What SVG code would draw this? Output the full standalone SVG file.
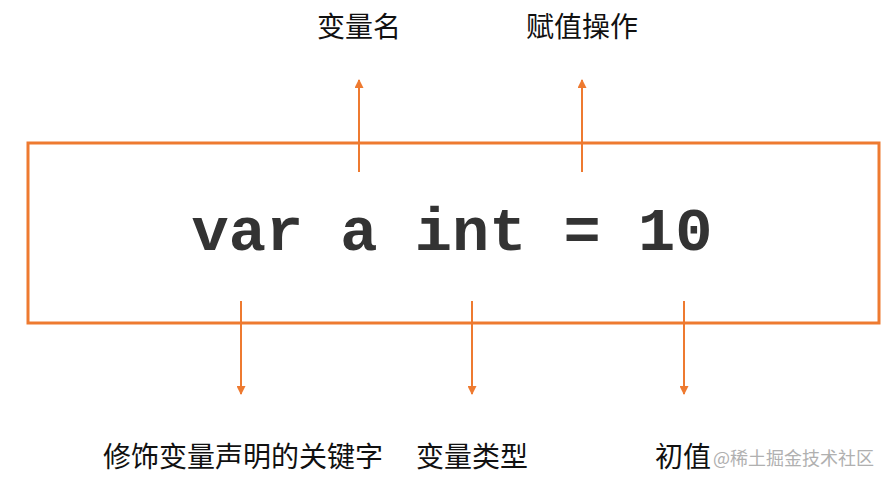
<svg xmlns="http://www.w3.org/2000/svg" width="891" height="485" viewBox="0 0 891 485">
<style>
.lbl{font-family:"Noto Sans CJK SC","Noto Sans",sans-serif;font-size:28px;fill:#111;text-anchor:middle}
.wm{font-family:"Noto Sans CJK SC","Noto Sans",sans-serif;font-size:18px;fill:#b0b0b0}
.code{font-family:"Liberation Mono","Courier New",monospace;font-weight:bold;font-size:62px;fill:#333}
.ln{stroke:#EE7A30;stroke-width:2;fill:none}
</style>
<defs>
<marker id="ah" viewBox="0 0 10 10" refX="9" refY="5" markerWidth="10" markerHeight="9" markerUnits="userSpaceOnUse" orient="auto">
<path d="M0,0 L10,5 L0,10 Z" fill="#EE7A30"/>
</marker>
</defs>
<rect width="891" height="485" fill="#fff"/>
<g id="box">
<rect x="28" y="143" width="851" height="180" fill="none" stroke="#EE7A30" stroke-width="3"/>
<text class="code" x="452" y="250" text-anchor="middle">var a int = 10</text>
</g>
<g id="connectors">
<line class="ln" x1="359" y1="172" x2="359" y2="80" marker-end="url(#ah)"/>
<line class="ln" x1="582" y1="172" x2="582" y2="80" marker-end="url(#ah)"/>
<line class="ln" x1="241" y1="301" x2="241" y2="394" marker-end="url(#ah)"/>
<line class="ln" x1="472" y1="301" x2="472" y2="394" marker-end="url(#ah)"/>
<line class="ln" x1="684" y1="301" x2="684" y2="394" marker-end="url(#ah)"/>
</g>
<g id="n-name"><text class="lbl" x="359" y="37">变量名</text></g>
<g id="n-assign"><text class="lbl" x="582" y="37">赋值操作</text></g>
<g id="n-keyword"><text class="lbl" x="243" y="467">修饰变量声明的关键字</text></g>
<g id="n-type"><text class="lbl" x="472" y="467">变量类型</text></g>
<g id="n-init"><text class="lbl" x="683" y="467">初值</text></g>
<text class="wm" x="713" y="465">@稀土掘金技术社区</text>
</svg>
